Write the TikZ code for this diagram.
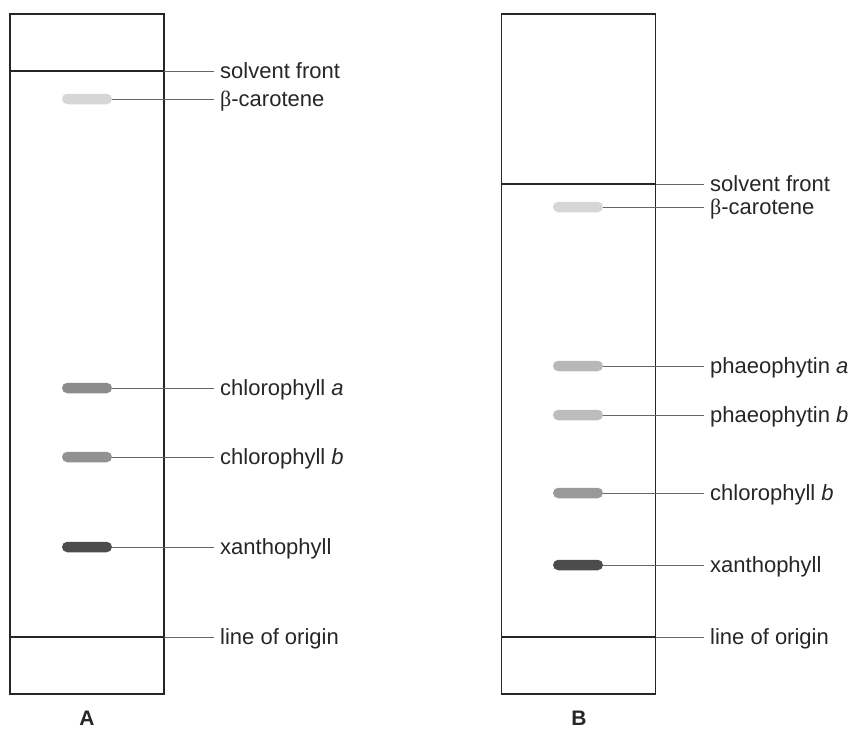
\documentclass[tikz,border=0pt]{standalone}
\usepackage{fontspec}
\setmainfont{Liberation Sans}
\newfontfamily\grkfont{Liberation Serif}
\usetikzlibrary{shapes.misc}
\begin{document}
\begin{tikzpicture}[x=1pt,y=-1pt,
 strip/.style={draw=black!85, line width=1.6pt, minimum width=154pt, minimum height=680pt, inner sep=0pt},
 front/.style={draw=black!85, line width=1.4pt},
 lead/.style={draw=black!60, line width=0.9pt},
 lbl/.style={anchor=west, inner xsep=6pt, inner ysep=0pt, text height=16pt, text depth=2pt, font=\fontsize{22}{26}\selectfont, text=black!85},
 spot/.style={rounded rectangle, minimum width=50pt, minimum height=10.5pt, inner sep=0pt},
 title/.style={font=\fontsize{21}{25}\selectfont\bfseries, text=black!85},
]
\useasboundingbox (0,0) rectangle (858,742);
% strips
\node[strip] (SA) at (87,354) {};
\node[strip] (SB) at (578.5,354) {};
% strip A
\coordinate (fAl) at (10,71); \coordinate (fAr) at (164,71);
\coordinate (oAl) at (10,637); \coordinate (oAr) at (164,637);
\draw[front] (fAl) -- (fAr);
\draw[front] (oAl) -- (oAr);
\node[lbl] (LfA) at (214,71) {solvent front};
\node[lbl] (LoA) at (214,637) {line of origin};
\draw[lead] (fAr) -- (LfA.west);
\draw[lead] (oAr) -- (LoA.west);
\node[spot, fill=black!16] (a1) at (87,99) {};
\node[spot, fill=black!45] (a2) at (87,388) {};
\node[spot, fill=black!43] (a3) at (87,457) {};
\node[spot, fill=black!70] (a4) at (87,547) {};
\node[lbl] (La1) at (214,99) {{\grkfont β}-carotene};
\node[lbl] (La2) at (214,388) {chlorophyll \textit{a}};
\node[lbl] (La3) at (214,457) {chlorophyll \textit{b}};
\node[lbl] (La4) at (214,547) {xanthophyll};
\foreach \i in {1,2,3,4} \draw[lead] (a\i.east) -- (La\i.west);
% strip B
\coordinate (fBl) at (501,184); \coordinate (fBr) at (656,184);
\coordinate (oBl) at (501,637); \coordinate (oBr) at (656,637);
\draw[front] (fBl) -- (fBr);
\draw[front] (oBl) -- (oBr);
\node[lbl] (LfB) at (704,184) {solvent front};
\node[lbl] (LoB) at (704,637) {line of origin};
\draw[lead] (fBr) -- (LfB.west);
\draw[lead] (oBr) -- (LoB.west);
\node[spot, fill=black!16] (b1) at (578,207) {};
\node[spot, fill=black!28] (b2) at (578,366) {};
\node[spot, fill=black!26] (b3) at (578,415) {};
\node[spot, fill=black!40] (b4) at (578,493) {};
\node[spot, fill=black!70] (b5) at (578,565) {};
\node[lbl] (Lb1) at (704,207) {{\grkfont β}-carotene};
\node[lbl] (Lb2) at (704,366) {phaeophytin \textit{a}};
\node[lbl] (Lb3) at (704,415) {phaeophytin \textit{b}};
\node[lbl] (Lb4) at (704,493) {chlorophyll \textit{b}};
\node[lbl] (Lb5) at (704,565) {xanthophyll};
\foreach \i in {1,2,3,4,5} \draw[lead] (b\i.east) -- (Lb\i.west);
% titles
\node[title] (TA) at (87,718) {A};
\node[title] (TB) at (579,718) {B};
\end{tikzpicture}
\end{document}
